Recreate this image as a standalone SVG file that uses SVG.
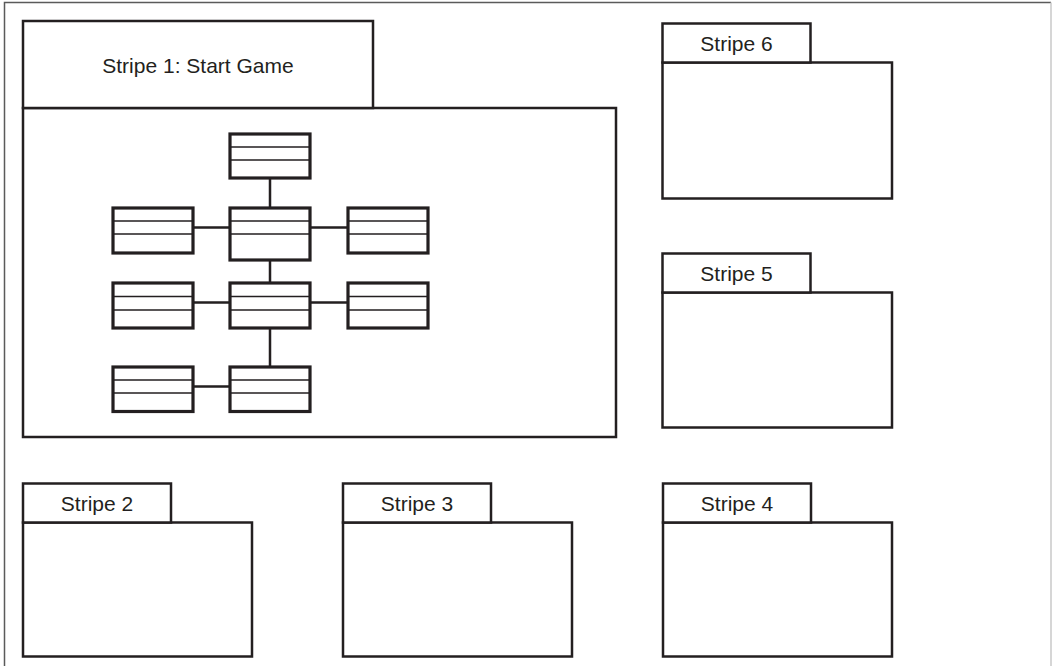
<svg xmlns="http://www.w3.org/2000/svg" width="1052" height="666" viewBox="0 0 1052 666">
<style>
.pkg{fill:#fff;stroke:#231f20;stroke-width:2.5}
.cls{fill:#fff;stroke:#231f20;stroke-width:3.2}
.sep{stroke:#231f20;stroke-width:1.5}
.con{stroke:#231f20;stroke-width:2.5;fill:none}
.lbl{font-family:"Liberation Sans",Arial,sans-serif;font-size:21px;fill:#231f20;text-anchor:middle}
</style>
<rect width="1052" height="666" fill="#fff"/>
<g id="frame" fill="none">
<path d="M4.5,666 V2.5 H1051" stroke="#5a5a5a" stroke-width="1.5"/>
<path d="M1051,2.5 V666" stroke="#c8c8c8" stroke-width="1.5"/>
</g>
<g id="stripe1">
<rect class="pkg" x="23" y="108" width="593" height="329"/>
<rect class="pkg" x="23" y="21" width="350" height="87"/>
<text class="lbl" x="198" y="73">Stripe 1: Start Game</text>
</g>
<g id="stripe6">
<rect class="pkg" x="662.5" y="62.5" width="229.5" height="136"/>
<rect class="pkg" x="662.5" y="23.5" width="148" height="39"/>
<text class="lbl" x="736.5" y="51">Stripe 6</text>
</g>
<g id="stripe5">
<rect class="pkg" x="662.5" y="292.5" width="229.5" height="135"/>
<rect class="pkg" x="662.5" y="253.5" width="148" height="39"/>
<text class="lbl" x="736.5" y="281">Stripe 5</text>
</g>
<g id="stripe2">
<rect class="pkg" x="23" y="522.5" width="229" height="134"/>
<rect class="pkg" x="23" y="483.5" width="148" height="39"/>
<text class="lbl" x="97" y="511">Stripe 2</text>
</g>
<g id="stripe3">
<rect class="pkg" x="343" y="522.5" width="229" height="134"/>
<rect class="pkg" x="343" y="483.5" width="148" height="39"/>
<text class="lbl" x="417" y="511">Stripe 3</text>
</g>
<g id="stripe4">
<rect class="pkg" x="663" y="522.5" width="229" height="134"/>
<rect class="pkg" x="663" y="483.5" width="148" height="39"/>
<text class="lbl" x="737" y="511">Stripe 4</text>
</g>
<g id="connectors">
<path class="con" d="M270,178 V208 M270,260 V283 M270,328 V367"/>
<path class="con" d="M193,227.5 H230 M310,227.5 H348 M193,302.5 H230 M310,302.5 H348 M193,386.5 H230"/>
</g>
<g id="class-top">
<rect class="cls" x="230" y="134" width="80" height="44"/>
<path class="sep" d="M230,147 H310 M230,160 H310"/>
</g>
<g id="class-center1">
<rect class="cls" x="230" y="208" width="80" height="52"/>
<path class="sep" d="M230,221 H310 M230,234 H310"/>
</g>
<g id="class-left1">
<rect class="cls" x="113" y="208" width="80" height="45"/>
<path class="sep" d="M113,221 H193 M113,234 H193"/>
</g>
<g id="class-right1">
<rect class="cls" x="348" y="208" width="80" height="45"/>
<path class="sep" d="M348,221 H428 M348,234 H428"/>
</g>
<g id="class-center2">
<rect class="cls" x="230" y="283" width="80" height="45"/>
<path class="sep" d="M230,296.5 H310 M230,310 H310"/>
</g>
<g id="class-left2">
<rect class="cls" x="113" y="283" width="80" height="45"/>
<path class="sep" d="M113,296.5 H193 M113,310 H193"/>
</g>
<g id="class-right2">
<rect class="cls" x="348" y="283" width="80" height="45"/>
<path class="sep" d="M348,296.5 H428 M348,310 H428"/>
</g>
<g id="class-center3">
<rect class="cls" x="230" y="367" width="80" height="44.5"/>
<path class="sep" d="M230,380 H310 M230,393 H310"/>
</g>
<g id="class-left3">
<rect class="cls" x="113" y="367" width="80" height="44.5"/>
<path class="sep" d="M113,380 H193 M113,393 H193"/>
</g>
</svg>
